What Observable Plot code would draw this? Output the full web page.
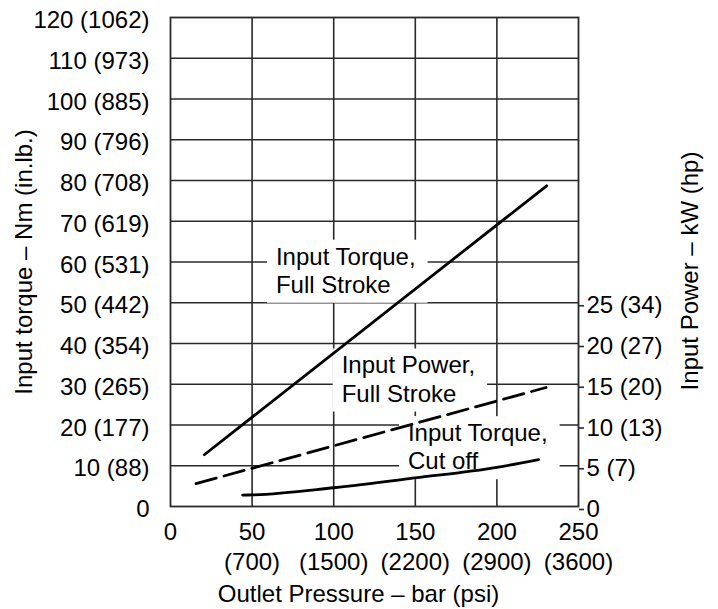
<!DOCTYPE html>
<html>
<head>
<meta charset="utf-8">
<script src="https://cdn.jsdelivr.net/npm/d3@7"></script>
<script src="https://cdn.jsdelivr.net/npm/@observablehq/plot@0.6"></script>
<style>
  html, body { margin: 0; padding: 0; background: #fff; }
  #chart svg { display: block; }
</style>
</head>
<body>
<div id="chart"></div>
<script>
// ---- Axis ticks and labels ----
const pressureBar = [0, 50, 100, 150, 200, 250];
const pressurePsi = [null, 700, 1500, 2200, 2900, 3600];
const torqueNm = [0, 10, 20, 30, 40, 50, 60, 70, 80, 90, 100, 110, 120];
const torqueInLb = [null, 88, 177, 265, 354, 442, 531, 619, 708, 796, 885, 973, 1062];
const powerKw = [0, 5, 10, 15, 20, 25];
const powerHp = [null, 7, 13, 20, 27, 34];
const kwToNmPosition = 2; // right axis: 5 kW per 10 Nm grid step

const xTitle = "Outlet Pressure – bar (psi)";
const yTitleLeft = "Input torque – Nm (in.lb.)";
const yTitleRight = "Input Power – kW (hp)";

// ---- Series ----
const torqueFullPressure = [20.7, 230.5];
const torqueFullNm = [12.7, 78.7];
const powerFullPressure = [15.6, 230.1];
const powerFullKw = [2.8, 14.6];
const torqueCutPressure = [44.2, 50, 100, 150, 200, 225.6];
const torqueCutNm = [2.8, 2.85, 4.6, 7.0, 9.6, 11.5];

// ---- Curve labels (anchor in data units) ----
const labelTexts = ["Input Torque,\nFull Stroke", "Input Power,\nFull Stroke", "Input Torque,\nCut off"];
const labelPressure = [64.6, 104.9, 145.5];
const labelTorque = [58.1, 31.4, 14.8];

// ---- Build tables ----
const torqueFull = torqueFullPressure.map((p, i) => ({p, v: torqueFullNm[i]}));
const powerFull = powerFullPressure.map((p, i) => ({p, v: powerFullKw[i] * kwToNmPosition}));
const torqueCut = torqueCutPressure.map((p, i) => ({p, v: torqueCutNm[i]}));
const labels = labelTexts.map((t, i) => ({t, p: labelPressure[i], v: labelTorque[i]}));

const leftFmt = d => { const i = torqueNm.indexOf(d); return torqueInLb[i] == null ? `${d}` : `${d} (${torqueInLb[i]})`; };
const rightFmt = d => { const k = d / kwToNmPosition; const i = powerKw.indexOf(k); return powerHp[i] == null ? `${k}` : `${k} (${powerHp[i]})`; };
const bottomFmt = d => { const i = pressureBar.indexOf(d); return pressurePsi[i] == null ? `${d}` : `${d}\n(${pressurePsi[i]})`; };

const FONT = "Liberation Sans, Arial, Helvetica, sans-serif";
const FS = 24;
const GRID = "#2a2a2a";

const chart = Plot.plot({
  width: 718,
  height: 609,
  marginLeft: 170,
  marginRight: 140,
  marginTop: 17,
  marginBottom: 103,
  style: {fontFamily: FONT, fontSize: FS + "px", color: "#000", background: "#fff"},
  x: {domain: [0, 250]},
  y: {domain: [0, 120]},
  marks: [
    Plot.ruleX(pressureBar.slice(1, -1), {stroke: GRID, strokeWidth: 1.6}),
    Plot.ruleY(torqueNm.slice(1, -1), {stroke: GRID, strokeWidth: 1.6}),
    Plot.frame({stroke: GRID, strokeWidth: 1.8}),
    // background boxes behind curve labels (white rects inserted after render)
    Plot.text(labels, {x: "p", y: "v", text: "t", textAnchor: "start", lineHeight: 1.17, fill: "none", fontSize: FS}),
    Plot.axisY({ticks: torqueNm, tickSize: 0, tickPadding: 21, tickFormat: leftFmt, dy: 3, label: null, fontSize: FS}),
    Plot.axisY({anchor: "right", ticks: powerKw.map(k => k * kwToNmPosition), tickSize: 5, tickPadding: 3, tickFormat: rightFmt, dy: 3, label: null, stroke: GRID, strokeWidth: 1.6, fontSize: FS}),
    Plot.axisX({ticks: pressureBar, tickSize: 0, tickPadding: 12, tickFormat: bottomFmt, lineHeight: 1.25, label: null, fontSize: FS}),
    Plot.line(torqueFull, {x: "p", y: "v", stroke: "#000", strokeWidth: 2.8}),
    Plot.line(powerFull, {x: "p", y: "v", stroke: "#000", strokeWidth: 2.8, strokeDasharray: "21,8"}),
    Plot.line(torqueCut, {x: "p", y: "v", stroke: "#000", strokeWidth: 2.8, curve: "monotone-x"}),
    Plot.text(labels, {x: "p", y: "v", text: "t", textAnchor: "start", lineHeight: 1.17, fill: "#000", fontSize: FS}),
    Plot.text([xTitle], {frameAnchor: "bottom", textAnchor: "middle", text: d => d, dy: 95, dx: -16, fontSize: FS}),
    Plot.text([yTitleLeft], {frameAnchor: "left", textAnchor: "middle", text: d => d, rotate: -90, dx: -146, fontSize: FS}),
    Plot.text([yTitleRight], {frameAnchor: "right", textAnchor: "middle", text: d => d, rotate: -90, dx: 112, dy: 9, fontSize: FS})
  ]
});

document.getElementById("chart").append(chart);

// white boxes behind curve labels
const NS = "http://www.w3.org/2000/svg";
const labelSet = new Set(labelTexts.map(s => s.replace(/\n/g, "")));
chart.querySelectorAll("text").forEach(t => {
  const g = t.parentNode;
  if (!g || g.getAttribute("fill") !== "none") return;
  if (!labelSet.has(t.textContent.replace(/\n/g, ""))) return;
  const b = t.getBBox();
  const r = document.createElementNS(NS, "rect");
  r.setAttribute("x", b.x - 9);
  r.setAttribute("y", b.y - 3);
  r.setAttribute("width", b.width + 21);
  r.setAttribute("height", b.height + 8);
  r.setAttribute("fill", "#fff");
  r.setAttribute("stroke", "none");
  const tr = t.getAttribute("transform");
  if (tr) r.setAttribute("transform", tr);
  g.insertBefore(r, t);
});
</script>
</body>
</html>
